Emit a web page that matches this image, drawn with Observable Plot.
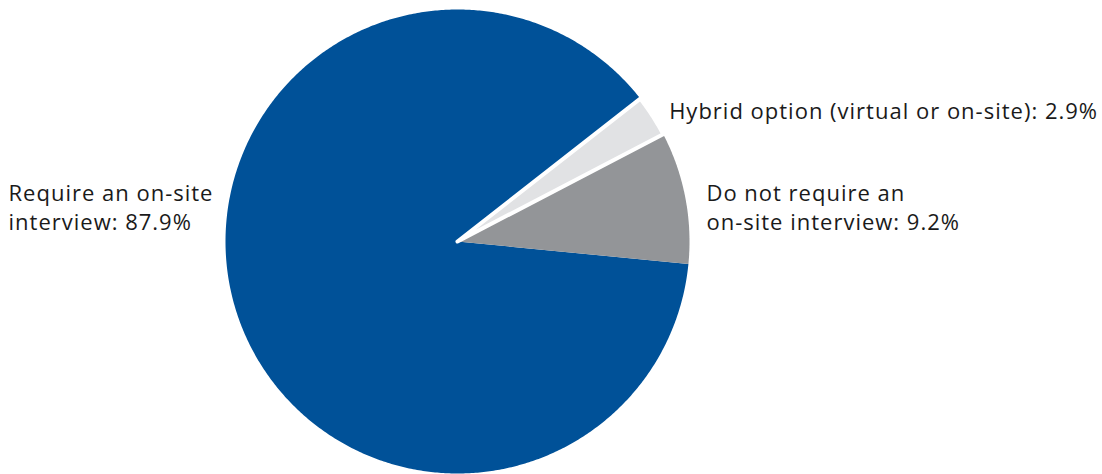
<!DOCTYPE html>
<html>
<head>
<meta charset="utf-8">
<script src="https://cdn.jsdelivr.net/npm/d3@7"></script>
<script src="https://cdn.jsdelivr.net/npm/@observablehq/plot@0.6"></script>
<style>
  html, body { margin: 0; padding: 0; background: #fff; }
  #chart svg { display: block; }
  #chart svg text { letter-spacing: 1px; }
</style>
</head>
<body>
<div id="chart"></div>
<script>
// Data
const categories = ["Hybrid option (virtual or on-site)", "Do not require an on-site interview", "Require an on-site interview"];
const shares = [2.9, 9.2, 87.9];
const labels = ["Hybrid option (virtual or on-site): 2.9%", "Do not require an\non-site interview: 9.2%", "Require an on-site\ninterview: 87.9%"];
const colors = ["#e1e2e4", "#939598", "#005198"];

// Layout
const W = 1102, H = 474;
const cx = 457, cy = 241, R = 232;
const startDeg = 52; // clockwise from 12 o'clock

const total = d3.sum(shares);
let acc = startDeg;
const slices = categories.map((c, i) => {
  const a0 = acc, a1 = acc + shares[i] / total * 360;
  acc = a1;
  return {category: c, value: shares[i], label: labels[i], color: colors[i], a0, a1, mid: (a0 + a1) / 2};
});

function polygon(s) {
  const pts = [{x: 0, y: 0, k: s.category}];
  const n = Math.max(2, Math.ceil((s.a1 - s.a0) / 0.5));
  for (let j = 0; j <= n; j++) {
    const a = (s.a0 + (s.a1 - s.a0) * j / n) * Math.PI / 180;
    pts.push({x: Math.sin(a), y: Math.cos(a), k: s.category});
  }
  pts.push({x: 0, y: 0, k: s.category});
  return pts;
}

const rad = d => d * Math.PI / 180;
const lab = (s, r) => ({x: r * Math.sin(rad(s.mid)), y: r * Math.cos(rad(s.mid)), text: s.label});

const sliceMarks = [slices[2], slices[1], slices[0]].map(s =>
  Plot.line(polygon(s), {
    x: "x", y: "y", curve: "linear",
    fill: s.color,
    stroke: s === slices[0] ? "white" : "none",
    strokeWidth: s === slices[0] ? 4 : 0,
    strokeLinejoin: "round"
  })
);

const hyb = lab(slices[0], 1.085);
const dnr = lab(slices[1], 1.093);

const textStyle = {fontSize: 22, fill: "#1a1a1a", lineHeight: 1.32, fontFamily: "'Open Sans', Lato, sans-serif"};

const chart = Plot.plot({
  width: W, height: H,
  margin: 0,
  x: {domain: [-cx / R, (W - cx) / R], range: [0, W], axis: null},
  y: {domain: [-(H - cy) / R, cy / R], range: [H, 0], axis: null},
  style: {background: "white"},
  marks: [
    ...sliceMarks,
    Plot.text([hyb], {x: "x", y: "y", dy: 4, text: "text", textAnchor: "start", ...textStyle}),
    Plot.text([dnr], {x: "x", y: 35.5 / R, text: "text", textAnchor: "start", ...textStyle}),
    Plot.text([slices[2]], {frameAnchor: "left", dx: 8, y: 35.5 / R, text: "label", textAnchor: "start", ...textStyle})
  ]
});
document.getElementById("chart").appendChild(chart);
</script>
</body>
</html>
